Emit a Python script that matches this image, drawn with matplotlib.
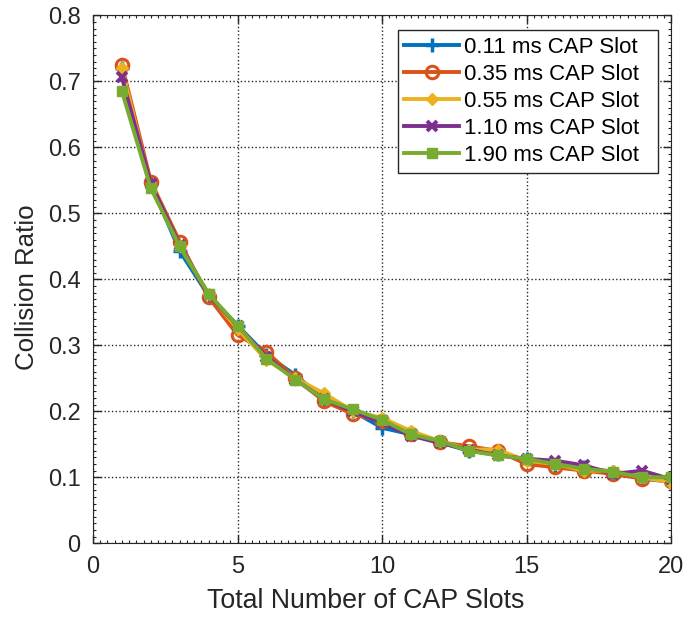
import numpy as np
import matplotlib
matplotlib.use("Agg")
import matplotlib.pyplot as plt
from matplotlib.ticker import MultipleLocator

slots = np.arange(1, 21)

# collision ratio per CAP slot length
r011 = [0.720, 0.545, 0.443, 0.375, 0.330, 0.285, 0.255, 0.218, 0.200, 0.175,
        0.165, 0.153, 0.140, 0.135, 0.127, 0.115, 0.115, 0.108, 0.098, 0.093]
r035 = [0.725, 0.548, 0.457, 0.373, 0.316, 0.290, 0.250, 0.215, 0.196, 0.185,
        0.165, 0.153, 0.147, 0.140, 0.120, 0.115, 0.110, 0.105, 0.098, 0.095]
r055 = [0.720, 0.540, 0.450, 0.378, 0.325, 0.278, 0.250, 0.227, 0.200, 0.190,
        0.170, 0.155, 0.142, 0.142, 0.125, 0.120, 0.110, 0.110, 0.100, 0.092]
r110 = [0.706, 0.545, 0.452, 0.376, 0.330, 0.283, 0.248, 0.218, 0.200, 0.183,
        0.163, 0.152, 0.142, 0.133, 0.128, 0.125, 0.118, 0.105, 0.110, 0.097]
r190 = [0.685, 0.538, 0.450, 0.378, 0.330, 0.280, 0.248, 0.218, 0.203, 0.187,
        0.165, 0.155, 0.140, 0.133, 0.128, 0.120, 0.113, 0.108, 0.100, 0.100]

labels = ["0.11 ms CAP Slot", "0.35 ms CAP Slot", "0.55 ms CAP Slot",
          "1.10 ms CAP Slot", "1.90 ms CAP Slot"]

plt.rcParams["font.family"] = ["Liberation Sans", "DejaVu Sans"]

fig = plt.figure(figsize=(6.84, 6.18), dpi=100)
ax = fig.add_axes([0.136, 0.121, 0.845, 0.854])

ax.plot(slots, r011, color="#0072BD", marker="+", ms=10, mew=2.5, lw=2.8, label=labels[0])
ax.plot(slots, r035, color="#D95319", marker="o", ms=9, mew=2.2, mfc="none", lw=2.8, label=labels[1])
ax.plot(slots, r055, color="#EDB120", marker="D", ms=6.5, lw=2.8, label=labels[2])
ax.plot(slots, r110, color="#7E2F8E", marker="x", ms=6.5, mew=2.8, lw=2.8, label=labels[3])
ax.plot(slots, r190, color="#77AC30", marker="s", ms=7.5, lw=2.8, label=labels[4])

ax.set_xlim(0, 20)
ax.set_ylim(0, 0.8)
ax.set_xticks([0, 5, 10, 15, 20])
ax.set_yticks(np.arange(0, 0.81, 0.1))
ax.set_yticklabels(["0", "0.1", "0.2", "0.3", "0.4", "0.5", "0.6", "0.7", "0.8"])
ax.xaxis.set_minor_locator(MultipleLocator(0.25))
ax.yaxis.set_minor_locator(MultipleLocator(0.01))
ax.tick_params(direction="in", which="both", top=True, right=True, labelsize=17,
               colors="#262626", pad=9)
ax.tick_params(which="major", length=6, width=1)
ax.tick_params(which="minor", length=2.5, width=0.8)
ax.grid(True, which="major", linestyle=":", color="#262626", lw=1)

ax.set_xlabel("Total Number of CAP Slots", fontsize=19.3, color="#262626")
ax.set_ylabel("Collision Ratio", fontsize=18.6, color="#262626")
ax.xaxis.set_label_coords(0.471, -0.084)
ax.yaxis.set_label_coords(-0.094, 0.486)
for s in ax.spines.values():
    s.set_color("#262626")

# matlab style legend: wide box, text left aligned, extra room on the right
leg = ax.legend(loc="upper right", bbox_to_anchor=(0.527, 0.6, 0.4505, 0.372),
                mode="expand", fontsize=16, fancybox=False, framealpha=1,
                edgecolor="#262626", handlelength=2.48, handletextpad=0.22,
                borderpad=0.3, labelspacing=0.27, borderaxespad=0)
leg.get_frame().set_linewidth(1)

fig.savefig("out.png", dpi=100)
